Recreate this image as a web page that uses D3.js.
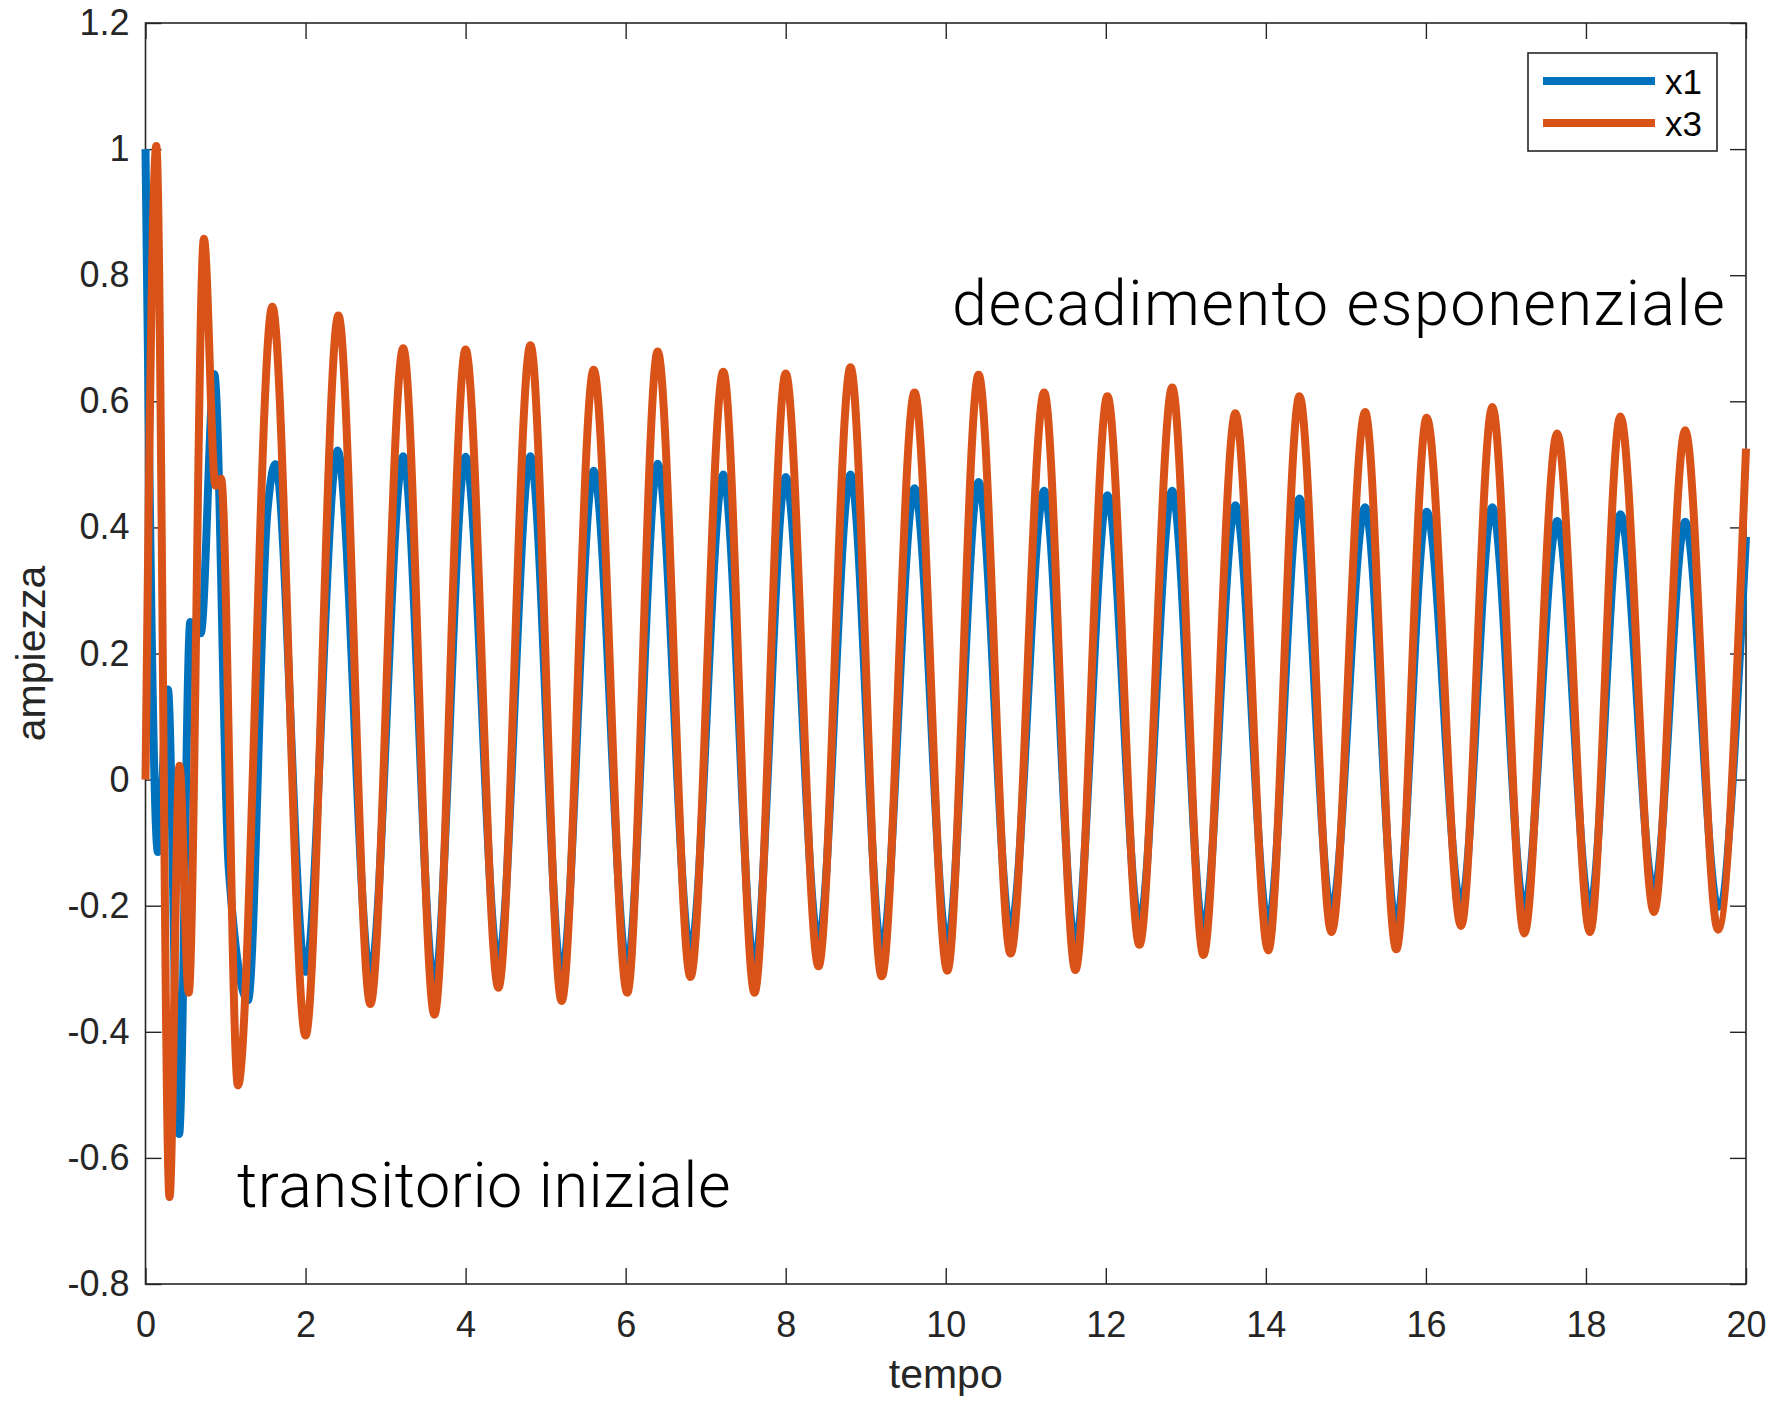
<!DOCTYPE html>
<html>
<head>
<meta charset="utf-8">
<script src="https://cdn.jsdelivr.net/npm/d3@7"></script>
<style>
  html, body { margin: 0; padding: 0; background: #fff; }
  svg { display: block; }
</style>
</head>
<body>
<svg id="chart" width="1777" height="1404"></svg>
<script>
// Turning points of x1 (time, amplitude)
const x1Time = [0, 0.155, 0.28, 0.42, 0.56, 0.69, 0.86, 1.04, 1.28, 1.52, 1.625, 2.00, 2.40, 2.81,
  3.22, 3.61, 4.00, 4.41, 4.81, 5.20, 5.60, 6.02, 6.40, 6.81, 7.22, 7.61, 8.00, 8.41, 8.81, 9.20,
  9.61, 10.02, 10.41, 10.81, 11.23, 11.62, 12.02, 12.42, 12.83, 13.22, 13.62, 14.03, 14.42, 14.82,
  15.24, 15.63, 16.01, 16.44, 16.83, 17.23, 17.64, 18.05, 18.43, 18.85, 19.24, 19.65, 20.0];
const x1Value = [1.0, -0.115, 0.143, -0.562, 0.25, 0.232, 0.643, -0.14, -0.35, 0.42, 0.50, -0.305, 0.522, -0.31,
  0.513, -0.327, 0.512, -0.292, 0.513, -0.311, 0.490, -0.298, 0.501, -0.273, 0.484, -0.296, 0.480, -0.258, 0.484, -0.271,
  0.462, -0.263, 0.472, -0.239, 0.458, -0.261, 0.451, -0.229, 0.458, -0.240, 0.435, -0.231, 0.446, -0.210,
  0.432, -0.231, 0.425, -0.200, 0.432, -0.205, 0.410, -0.205, 0.421, -0.178, 0.409, -0.202, 0.385];

// Turning points of x3 (time, amplitude)
const x3Time = [0, 0.135, 0.30, 0.425, 0.54, 0.73, 0.875, 0.945, 1.155, 1.585, 2.00, 2.41, 2.81,
  3.22, 3.61, 4.00, 4.41, 4.81, 5.20, 5.60, 6.02, 6.40, 6.81, 7.22, 7.61, 8.00, 8.41, 8.81, 9.20,
  9.61, 10.02, 10.41, 10.81, 11.23, 11.62, 12.02, 12.42, 12.83, 13.22, 13.62, 14.03, 14.42, 14.82,
  15.24, 15.63, 16.01, 16.44, 16.83, 17.23, 17.64, 18.05, 18.43, 18.85, 19.24, 19.65, 20.0];
const x3Value = [0.0, 1.005, -0.662, 0.022, -0.338, 0.858, 0.466, 0.477, -0.485, 0.75, -0.406, 0.736, -0.356,
  0.684, -0.373, 0.682, -0.330, 0.689, -0.351, 0.650, -0.338, 0.679, -0.313, 0.647, -0.338, 0.644, -0.296, 0.654, -0.312,
  0.614, -0.303, 0.642, -0.276, 0.614, -0.302, 0.608, -0.262, 0.622, -0.278, 0.581, -0.271, 0.608, -0.242,
  0.583, -0.269, 0.574, -0.232, 0.591, -0.244, 0.549, -0.242, 0.576, -0.210, 0.554, -0.238, 0.525];

const seriesNames = ["x1", "x3"];
const seriesColors = ["#0072BD", "#D95319"];

const xTicks = [0, 2, 4, 6, 8, 10, 12, 14, 16, 18, 20];
const xTickLabels = ["0", "2", "4", "6", "8", "10", "12", "14", "16", "18", "20"];
const yTicks = [-0.8, -0.6, -0.4, -0.2, 0, 0.2, 0.4, 0.6, 0.8, 1, 1.2];
const yTickLabels = ["-0.8", "-0.6", "-0.4", "-0.2", "0", "0.2", "0.4", "0.6", "0.8", "1", "1.2"];

const xLabel = "tempo";
const yLabel = "ampiezza";
const noteDecay = "decadimento esponenziale";
const noteTransient = "transitorio iniziale";

// ---- layout ----
const plot = { left: 145.5, right: 1746, top: 23, bottom: 1284 };
const axisColor = "#262626";
const tickFont = "'Liberation Sans', Arial, Helvetica, sans-serif";
const noteFont = "'Helvetica Neue', Roboto, Lato, 'Open Sans', sans-serif";

const svg = d3.select("#chart");
svg.append("rect").attr("width", 1777).attr("height", 1404).attr("fill", "#fff");

const x = d3.scaleLinear().domain([0, 20]).range([plot.left, plot.right]);
const y = d3.scaleLinear().domain([-0.8, 1.2]).range([plot.bottom, plot.top]);

// ---- axes (ticks pointing inward on all four sides) ----
const tickLen = 16;
function styleAxis(g) {
  g.select(".domain").remove();
  g.selectAll(".tick line").attr("stroke", axisColor).attr("stroke-width", 1.4);
  g.selectAll(".tick text").attr("fill", axisColor)
    .attr("font-family", tickFont).attr("font-size", 36);
}

svg.append("g")
  .attr("transform", `translate(0,${plot.bottom})`)
  .call(d3.axisBottom(x).tickValues(xTicks).tickFormat((d, i) => xTickLabels[i])
    .tickSizeInner(-tickLen).tickSizeOuter(0).tickPadding(27))
  .call(styleAxis);

svg.append("g")
  .attr("transform", `translate(0,${plot.top})`)
  .call(d3.axisTop(x).tickValues(xTicks).tickFormat("")
    .tickSizeInner(-tickLen).tickSizeOuter(0))
  .call(styleAxis);

svg.append("g")
  .attr("transform", `translate(${plot.left},0)`)
  .call(d3.axisLeft(y).tickValues(yTicks).tickFormat((d, i) => yTickLabels[i])
    .tickSizeInner(-tickLen).tickSizeOuter(0).tickPadding(16))
  .call(styleAxis);

svg.append("g")
  .attr("transform", `translate(${plot.right},0)`)
  .call(d3.axisRight(y).tickValues(yTicks).tickFormat("")
    .tickSizeInner(-tickLen).tickSizeOuter(0))
  .call(styleAxis);

// box around the plotting area
svg.append("rect")
  .attr("x", plot.left).attr("y", plot.top)
  .attr("width", plot.right - plot.left).attr("height", plot.bottom - plot.top)
  .attr("fill", "none").attr("stroke", axisColor).attr("stroke-width", 1.6);

// axis titles
svg.append("text")
  .attr("x", (plot.left + plot.right) / 2).attr("y", 1388)
  .attr("text-anchor", "middle")
  .attr("font-family", tickFont).attr("font-size", 41).attr("fill", axisColor)
  .text(xLabel);

svg.append("text")
  .attr("transform", `translate(45,${(plot.top + plot.bottom) / 2}) rotate(-90)`)
  .attr("text-anchor", "middle")
  .attr("font-family", tickFont).attr("font-size", 41).attr("fill", axisColor)
  .text(yLabel);

// ---- series ----
const line = d3.line()
  .x(d => x(d[0]))
  .y(d => y(d[1]))
  .curve(d3.curveMonotoneX);

const series = [
  d3.zip(x1Time, x1Value),
  d3.zip(x3Time, x3Value)
];

svg.append("g").selectAll("path")
  .data(series)
  .join("path")
  .attr("d", line)
  .attr("fill", "none")
  .attr("stroke", (d, i) => seriesColors[i])
  .attr("stroke-width", 8)
  .attr("stroke-linejoin", "round");

// ---- annotations ----
svg.append("text")
  .attr("x", 952).attr("y", 325)
  .attr("font-family", noteFont).attr("font-weight", 300)
  .attr("font-size", 63).attr("letter-spacing", 1.5).attr("fill", "#000")
  .text(noteDecay);

svg.append("text")
  .attr("x", 237).attr("y", 1207)
  .attr("font-family", noteFont).attr("font-weight", 300)
  .attr("font-size", 63).attr("letter-spacing", 0.5).attr("fill", "#000")
  .text(noteTransient);

// ---- legend ----
const legend = svg.append("g").attr("transform", `translate(${plot.right - 218},${plot.top + 30})`);
legend.append("rect")
  .attr("x", 0).attr("y", 0).attr("width", 189).attr("height", 98)
  .attr("fill", "#fff").attr("stroke", axisColor).attr("stroke-width", 1.6);
seriesNames.forEach((name, i) => {
  const ly = 28 + i * 42;
  legend.append("line")
    .attr("x1", 15).attr("x2", 127).attr("y1", ly).attr("y2", ly)
    .attr("stroke", seriesColors[i]).attr("stroke-width", 8);
  legend.append("text")
    .attr("x", 137).attr("y", ly).attr("dy", "0.36em")
    .attr("font-family", tickFont).attr("font-size", 35).attr("fill", "#000")
    .text(name);
});
</script>
</body>
</html>
